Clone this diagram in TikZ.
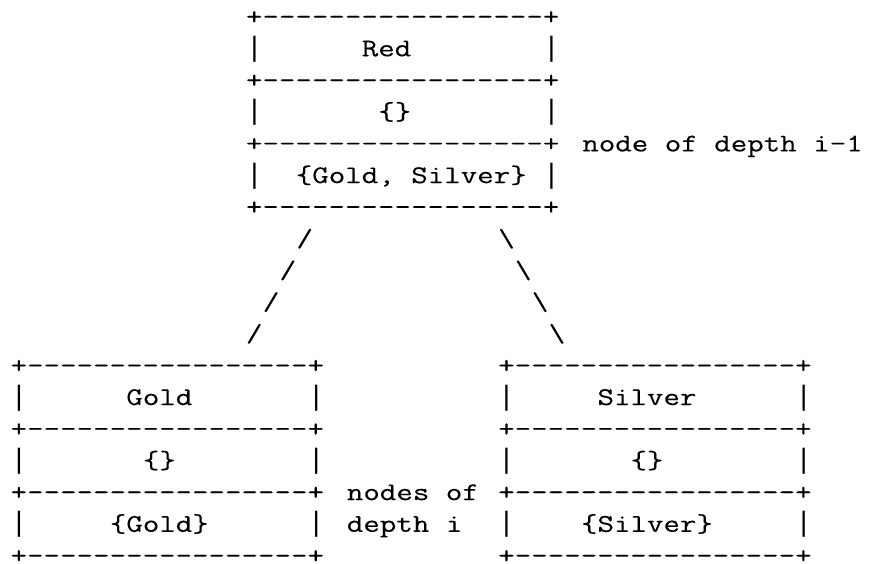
\documentclass[tikz,border=0pt]{standalone}
\usepackage{fontspec}
\usepackage{graphicx}
\setmonofont{Latin Modern Mono}[WordSpace={1,0,0},HyphenChar=None,FakeBold=0.12]
\newfontfamily\barfont{Liberation Mono}
\newcommand\T[1]{\scalebox{1.256}[1]{#1}}
% vertical bar of the ASCII boxes: the taller Courier-metric glyph, one column wide
\newcommand\B{\makebox[13.3875pt][c]{\barfont\fontsize{28.02pt}{31.7pt}\selectfont\scalebox{0.7962}[1]{|}}}
\tikzset{
  cell/.style 2 args={anchor=base west, inner sep=0pt, outer sep=0pt,
    font=\ttfamily\fontsize{25.5pt}{31.7pt}\selectfont, text=black,
    at={({10.6pt+#1*16.815pt},{-24.6pt-(#2-1)*31.7pt})}},
}
\newcommand\dashrow{+-----------------+}
\begin{document}
\begin{tikzpicture}
\useasboundingbox (0,0) rectangle (871pt,-563pt);
% node of depth i-1
\node[cell={14}{1}]  (r1) {\T{\dashrow}};
\node[cell={14}{2}]  (r2) {\T{\B~~~~~~Red~~~~~~~~\B}};
\node[cell={14}{3}]  (r3) {\T{\dashrow}};
\node[cell={14}{4}]  (r4) {\T{\B~~~~~~~\{\}~~~~~~~~\B}};
\node[cell={14}{5}]  (r5) {\T{\dashrow}};
\node[cell={14}{6}]  (r6) {\T{\B~~\{Gold,~Silver\}~\B}};
\node[cell={14}{7}]  (r7) {\T{\dashrow}};
\node[cell={34}{5}]  (lab1) {\T{node~of~depth~i-1}};
% edges
\node[cell={17}{8}]  (s1) {\T{/}};
\node[cell={16}{9}]  (s2) {\T{/}};
\node[cell={15}{10}] (s3) {\T{/}};
\node[cell={14}{11}] (s4) {\T{/}};
\node[cell={29}{8}]  (b1) {\T{\textbackslash}};
\node[cell={30}{9}]  (b2) {\T{\textbackslash}};
\node[cell={31}{10}] (b3) {\T{\textbackslash}};
\node[cell={32}{11}] (b4) {\T{\textbackslash}};
% Gold node
\node[cell={0}{12}]  (g1) {\T{\dashrow}};
\node[cell={0}{13}]  (g2) {\T{\B~~~~~~Gold~~~~~~~\B}};
\node[cell={0}{14}]  (g3) {\T{\dashrow}};
\node[cell={0}{15}]  (g4) {\T{\B~~~~~~~\{\}~~~~~~~~\B}};
\node[cell={0}{16}]  (g5) {\T{\dashrow}};
\node[cell={0}{17}]  (g6) {\T{\B~~~~~\{Gold\}~~~~~~\B}};
\node[cell={0}{18}]  (g7) {\T{\dashrow}};
% labels
\node[cell={20}{16}] (lab2) {\T{nodes~of}};
\node[cell={20}{17}] (lab3) {\T{depth~i}};
% Silver node
\node[cell={29}{12}] (v1) {\T{\dashrow}};
\node[cell={29}{13}] (v2) {\T{\B~~~~~Silver~~~~~~\B}};
\node[cell={29}{14}] (v3) {\T{\dashrow}};
\node[cell={29}{15}] (v4) {\T{\B~~~~~~~\{\}~~~~~~~~\B}};
\node[cell={29}{16}] (v5) {\T{\dashrow}};
\node[cell={29}{17}] (v6) {\T{\B~~~~\{Silver\}~~~~~\B}};
\node[cell={29}{18}] (v7) {\T{\dashrow}};
\end{tikzpicture}
\end{document}
